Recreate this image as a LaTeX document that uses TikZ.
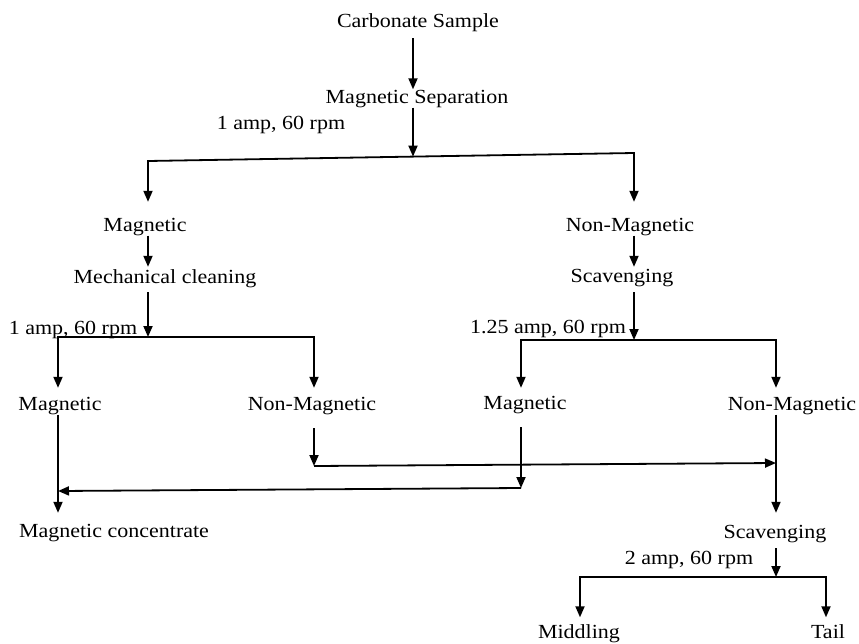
\documentclass[tikz,border=0pt]{standalone}
\usepackage{fontspec}
\usepackage{graphicx}
\setmainfont{Liberation Serif}
\usetikzlibrary{arrows.meta}
\newcommand{\wt}[1]{\scalebox{1.1}[1]{#1}}
\begin{document}
\begin{tikzpicture}[x=1pt,y=-1pt,
  txt/.style={inner sep=0pt, anchor=base, text height=14pt, text depth=4pt,
    font=\fontsize{20}{24}\selectfont},
  ln/.style={line width=1.8pt, line join=miter},
  arr/.style={ln, -{Triangle[length=11pt,width=9pt]}}]
\useasboundingbox (0,0) rectangle (859,643);
% nodes
\node[txt] (cs) at (418,27) {\wt{Carbonate Sample}};
\node[txt] (ms) at (417,103.5) {\wt{Magnetic Separation}};
\node[txt] (l1) at (281,129.5) {\wt{1 amp, 60 rpm}};
\node[txt] (m1) at (145,231.5) {\wt{Magnetic}};
\node[txt] (n1) at (630,231.5) {\wt{Non-Magnetic}};
\node[txt] (mc) at (165,283.5) {\wt{Mechanical cleaning}};
\node[txt] (sc1) at (622,282.5) {\wt{Scavenging}};
\node[txt] (l2) at (73,334.5) {\wt{1 amp, 60 rpm}};
\node[txt] (l3) at (548,333.5) {\wt{1.25 amp, 60 rpm}};
\node[txt] (m2) at (60,410.5) {\wt{Magnetic}};
\node[txt] (n2) at (312,410.5) {\wt{Non-Magnetic}};
\node[txt] (m3) at (525,409.5) {\wt{Magnetic}};
\node[txt] (n3) at (792,410.5) {\wt{Non-Magnetic}};
\node[txt] (mcon) at (114,537.5) {\wt{Magnetic concentrate}};
\node[txt] (sc2) at (775,538.5) {\wt{Scavenging}};
\node[txt] (l4) at (689,564) {\wt{2 amp, 60 rpm}};
\node[txt] (mid) at (579,638.5) {\wt{Middling}};
\node[txt] (tail) at (828,638.5) {\wt{Tail}};
% coordinates
\coordinate (vA) at (413,0);
\coordinate (vB) at (148,0);
\coordinate (vC) at (634,0);
\coordinate (vD) at (58,0);
\coordinate (vE) at (314,0);
\coordinate (vF) at (521,0);
\coordinate (vG) at (776,0);
\coordinate (J1L) at (148,161);
\coordinate (J1R) at (634,153);
\coordinate (J1M) at (413,156.6);
\coordinate (J2L) at (58,337);
\coordinate (J2R) at (314,337);
\coordinate (J2M) at (148,337);
\coordinate (J3L) at (521,340);
\coordinate (J3R) at (776,340);
\coordinate (J3M) at (634,340);
\coordinate (J4L) at (580,577);
\coordinate (J4R) at (826,577);
\coordinate (J4M) at (776,577);
\coordinate (K1) at (314,466);
\coordinate (K1e) at (776,463);
\coordinate (K2) at (521,488);
\coordinate (K2e) at (58,491);
% connectors
\draw[arr, shorten <=7pt] (vA |- cs.south) -- (vA |- ms.north);
\draw[arr] (vA |- ms.south) -- (J1M);
\draw[arr, shorten >=15.5pt] (J1M) -- (J1L) -- (J1L |- m1.north);
\draw[arr, shorten >=15.5pt] (J1M) -- (J1R) -- (J1R |- n1.north);
\draw[arr, shorten >=2.5pt] (vB |- m1.south) -- (vB |- mc.north);
\draw[arr, shorten >=1.5pt] (vC |- n1.south) -- (vC |- sc1.north);
\draw[arr, shorten <=4.5pt] (vB |- mc.south) -- (J2M);
\draw[arr, shorten <=5.5pt] (vC |- sc1.south) -- (J3M);
\draw[arr, shorten >=8.5pt] (J2M) -- (J2L) -- (J2L |- m2.north);
\draw[arr, shorten >=8.5pt] (J2M) -- (J2R) -- (J2R |- n2.north);
\draw[arr, shorten >=7.5pt] (J3M) -- (J3L) -- (J3L |- m3.north);
\draw[arr, shorten >=8.5pt] (J3M) -- (J3R) -- (J3R |- n3.north);
\draw[arr, shorten >=10.5pt] (vD |- m2.south) -- (vD |- mcon.north);
\draw[arr, shorten <=13.5pt] (vE |- n2.south) -- (K1);
\draw[arr] (K1) -- (K1e);
\draw[arr, shorten <=13.5pt] (vF |- m3.south) -- (K2);
\draw[arr] (K2) -- (K2e);
\draw[arr, shorten >=11.5pt] (vG |- n3.south) -- (vG |- sc2.north);
\draw[arr, shorten <=5.5pt] (vG |- sc2.south) -- (J4M);
\draw[arr, shorten >=7pt] (J4M) -- (J4L) -- (J4L |- mid.north);
\draw[arr, shorten >=7pt] (J4M) -- (J4R) -- (J4R |- tail.north);
\end{tikzpicture}
\end{document}
